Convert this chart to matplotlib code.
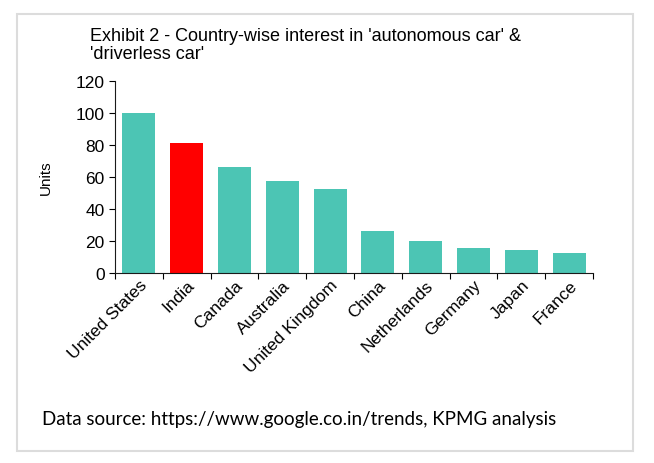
import numpy as np
import matplotlib
matplotlib.use("Agg")
import matplotlib.pyplot as plt
from matplotlib.patches import Rectangle

countries = ["United States", "India", "Canada", "Australia", "United Kingdom",
             "China", "Netherlands", "Germany", "Japan", "France"]
interest = [100, 81, 66, 57.5, 52.5, 26, 20, 15.5, 14.5, 12.5]
highlight = "India"

plt.rcParams['font.family'] = ['Liberation Sans', 'DejaVu Sans']

fig = plt.figure(figsize=(6.54, 4.64), dpi=100)

# light frame around the exhibit
fig.patches.append(Rectangle((17/654, 1 - 452/464), 616/654, 437/464,
                             transform=fig.transFigure, fill=False,
                             edgecolor="#dcdcdc", linewidth=1.5))

ax = fig.add_axes([115/654, 1 - 274/464, 478/654, 192/464])

x = np.arange(len(countries))
colors = ["#ff0000" if c == highlight else "#4cc5b4" for c in countries]
ax.bar(x, interest, width=0.69, color=colors)

ax.set_xlim(-0.5, len(countries) - 0.5)
ax.set_ylim(0, 120)
ax.set_yticks(range(0, 121, 20))
ax.tick_params(axis="y", labelsize=12.5, length=4, direction="out")

# ticks between categories, labels at the centres
ax.set_xticks(np.arange(-0.5, len(countries)), labels=[])
ax.set_xticks(x, labels=countries, minor=True)
ax.tick_params(axis="x", which="major", length=4)
ax.tick_params(axis="x", which="minor", length=0, labelsize=12.5, pad=3)
for lbl in ax.get_xticklabels(minor=True):
    lbl.set_rotation(45)
    lbl.set_ha("right")
    lbl.set_va("top")
    lbl.set_rotation_mode("anchor")

for s in ["top", "right"]:
    ax.spines[s].set_visible(False)
ax.spines["bottom"].set_color("#1a1a1a")
ax.spines["left"].set_color("#1a1a1a")

ax.set_ylabel("Units", fontsize=11, labelpad=16)

fig.text(90/654, 1 - 28/464,
         "Exhibit 2 - Country-wise interest in 'autonomous car' &\n'driverless car'",
         fontsize=13, ha="left", va="top", linespacing=1.1)

fig.text(42/654, 1 - 420/464,
         "Data source: https://www.google.co.in/trends, KPMG analysis",
         fontsize=13.5, ha="left", va="center", family=["Lato", "DejaVu Sans"])

fig.savefig("out.png", dpi=100, facecolor="white")
